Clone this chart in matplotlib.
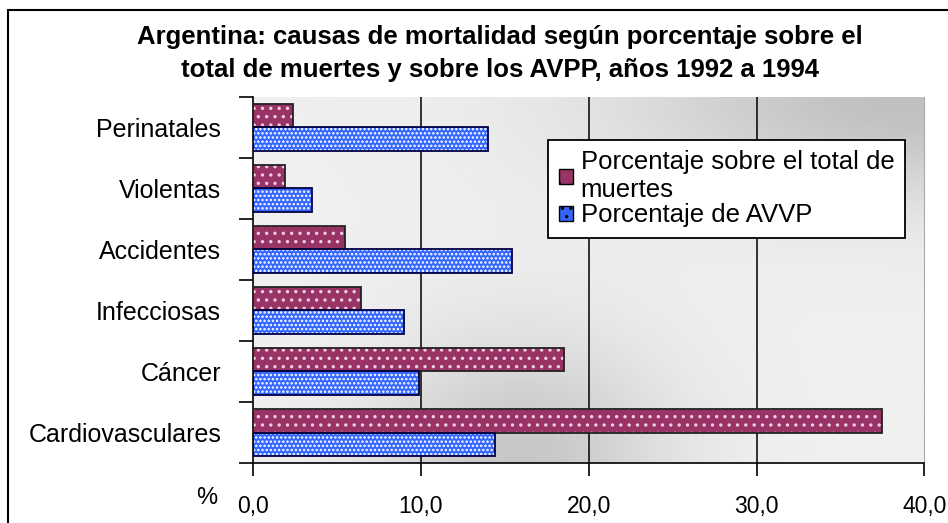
import matplotlib
matplotlib.use("Agg")
import matplotlib.pyplot as plt
import numpy as np
from matplotlib.patches import Rectangle, Patch

categories = ["Perinatales", "Violentas", "Accidentes", "Infecciosas", "Cáncer", "Cardiovasculares"]
muertes = [2.4, 1.9, 5.5, 6.4, 18.5, 37.5]
avpp = [14.0, 3.5, 15.4, 9.0, 9.9, 14.4]
xticks = [0, 10, 20, 30, 40]
xticklabels = ["0,0", "10,0", "20,0", "30,0", "40,0"]
title = "Argentina: causas de mortalidad según porcentaje sobre el\ntotal de muertes y sobre los AVPP, años 1992 a 1994"
labels = ["Porcentaje sobre el total de\nmuertes", "Porcentaje de AVVP"]

plt.rcParams['font.family'] = ['Liberation Sans', 'DejaVu Sans']
plt.rcParams['hatch.linewidth'] = 1.2

fig = plt.figure(figsize=(9.48, 5.23), dpi=100)
fig.patch.set_facecolor("white")
fig.add_artist(Rectangle((0.0085, -0.05), 1.1, 1.031, transform=fig.transFigure,
                         fill=False, edgecolor="black", linewidth=1.5))

ax = fig.add_axes([0.267, 0.1147, 0.708, 0.700])

# gradient background (light, darker at top-right and bottom-middle)
gx = np.linspace(0, 1, 300)
gy = np.linspace(0, 1, 200)
X, Y = np.meshgrid(gx, gy)
b1 = np.exp(-(((X - 1.0) / 0.45) ** 2 + ((Y - 1.0) / 0.28) ** 2))
b2 = np.exp(-(((X - 0.4) / 0.22) ** 2 + ((Y - 0.0) / 0.35) ** 2))
val = 0.94 - 0.19 * b1 - 0.16 * b2
ax.imshow(val, extent=[0, 40, -0.5, 5.5], origin="lower", cmap="gray", vmin=0, vmax=1,
          aspect="auto", zorder=0, interpolation="bilinear")

n = len(categories)
ypos = np.arange(n)[::-1]
h = 0.39
maroon = "#993366"
blue = "#3366ff"

for xv in xticks[1:-1]:
    ax.axvline(xv, color="black", linewidth=1.1, zorder=1)

ax.barh(ypos + h / 2, muertes, height=h, color=maroon, edgecolor="none", zorder=2)
ax.barh(ypos + h / 2, muertes, height=h, color="none", edgecolor="#f0d0e0", hatch="..", linewidth=0, zorder=3)
ax.barh(ypos + h / 2, muertes, height=h, color="none", edgecolor="#222222", linewidth=1.3, zorder=4)

ax.barh(ypos - h / 2, avpp, height=h, color=blue, edgecolor="none", zorder=2)
ax.barh(ypos - h / 2, avpp, height=h, color="none", edgecolor="white", hatch="....", linewidth=0, zorder=3)
ax.barh(ypos - h / 2, avpp, height=h, color="none", edgecolor="#000044", linewidth=1.3, zorder=4)

ax.set_xlim(0, 40)
ax.set_ylim(-0.5, n - 0.5)
ax.set_xticks(xticks)
ax.set_xticklabels(xticklabels, fontsize=16.5)
ax.set_yticks(ypos)
ax.set_yticklabels(categories, fontsize=18)
ax.set_yticks(np.arange(-0.5, n, 1.0), minor=True)
ax.tick_params(axis="y", which="major", length=0, pad=23)
ax.tick_params(axis="y", which="minor", length=10, width=1.2, direction="out")
ax.tick_params(axis="x", length=9, width=1.2, direction="out", pad=14)

ax.spines["top"].set_visible(False)
ax.spines["right"].set_color("#aaaaaa")
ax.spines["left"].set_linewidth(1.2)
ax.spines["bottom"].set_linewidth(1.2)

fig.text(0.218, 0.048, "%", fontsize=17, ha="center", va="center")

fig.text(0.527, 0.898, title, fontsize=18.5, fontweight="bold",
         ha="center", va="center", linespacing=1.45)

handles = [Patch(facecolor=maroon, edgecolor="black", hatch="."),
           Patch(facecolor=blue, edgecolor="black", hatch="..")]
leg = ax.legend(handles, labels, loc="upper left", bbox_to_anchor=(0.44, 0.882),
                fontsize=18.5, frameon=True, fancybox=False, framealpha=1,
                edgecolor="black", handlelength=0.55, handleheight=0.55,
                handletextpad=0.3, borderpad=0.4, labelspacing=0.05,
                borderaxespad=0)
leg.get_frame().set_linewidth(1.3)
leg.set_zorder(10)

fig.savefig("out.png", dpi=100)
